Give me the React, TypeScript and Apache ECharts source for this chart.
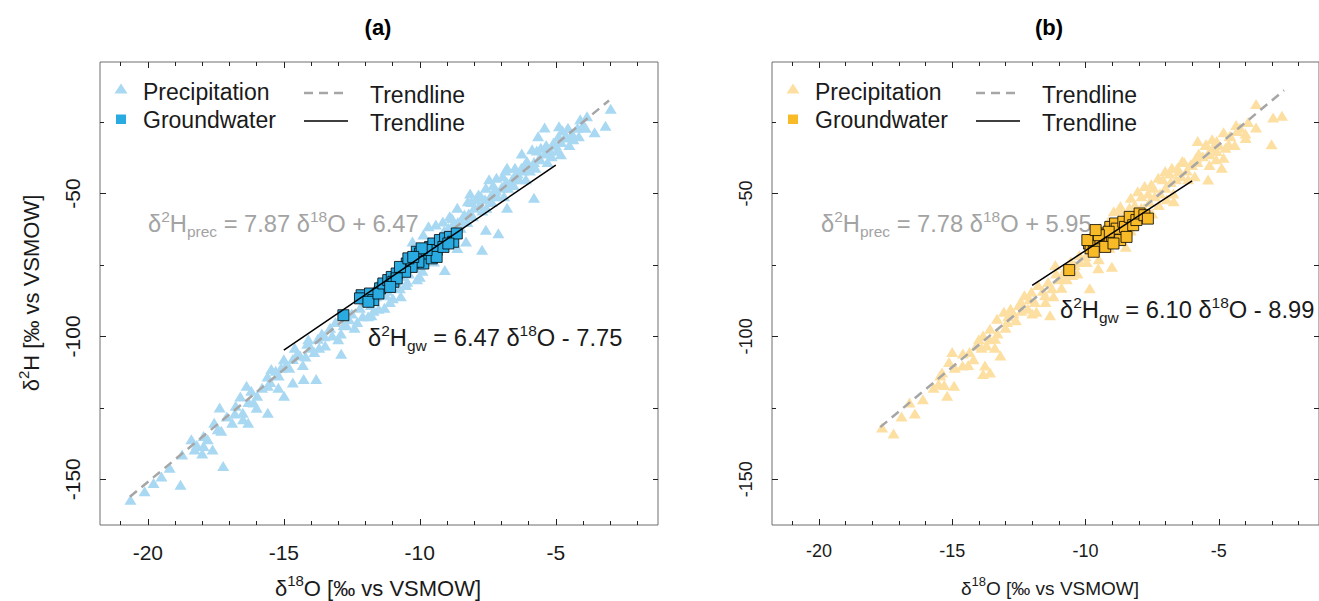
import React, { useEffect, useRef } from 'react';
import * as echarts from 'echarts';

const FONT = '"Liberation Sans", Arial, Helvetica, sans-serif';

// axis extents (per mil, vs VSMOW)
const X_MIN = -21.76;
const X_MAX = -1.24;
const Y_MIN = -166;
const Y_MAX = -4;
const xMajorTicks = [-20, -15, -10, -5];
const xMinorTicks = [-21, -20, -19, -18, -17, -16, -15, -14, -13, -12, -11, -10, -9, -8, -7, -6, -5, -4, -3, -2];
const yMajorTicks = [-150, -100, -50];
const yMinorTicks = [-150, -125, -100, -75, -50, -25];

// Panel (a) precipitation: [d18O, d2H]
const precipA: [number, number][] = [
  [-2.98, -20.4], [-3.17, -26.3], [-3.57, -28.6], [-5.41, -26.9], [-4.88, -26.5], [-4.42, -29.8], [-4.68, -30.4],
  [-5.08, -32.2], [-4.81, -36.3], [-5.87, -34.5], [-5.34, -35.1], [-5.6, -37.5], [-6.06, -38.6], [-6.26, -41.0],
  [-5.8, -51.5], [-6.79, -41.0], [-6.52, -43.9], [-7.18, -44.5], [-6.92, -47.4], [-7.57, -48.0], [-7.84, -50.4],
  [-7.31, -49.8], [-6.79, -55.0], [-7.57, -62.7], [-7.11, -63.9], [-7.71, -69.7], [-8.23, -52.7], [-8.62, -55.0],
  [-8.36, -57.4], [-8.82, -58.6], [-9.15, -59.8], [-9.41, -60.9], [-9.68, -61.5], [-9.08, -76.8], [-9.48, -73.8],
  [-10.0, -79.1], [-9.87, -64.4], [-10.27, -66.8], [-8.3, -66.8], [-8.62, -69.1], [-10.46, -80.9], [-10.73, -83.2],
  [-10.99, -86.7], [-11.51, -90.3], [-11.25, -85.6], [-11.78, -92.6], [-12.3, -95.0], [-12.7, -96.1], [-12.89, -106.1],
  [-13.22, -99.7], [-13.48, -103.2], [-13.75, -100.8], [-13.88, -105.5], [-14.14, -102.6], [-14.4, -106.7],
  [-14.67, -107.9], [-14.93, -110.2], [-15.19, -113.7], [-15.46, -111.4], [-14.67, -116.1], [-14.27, -114.9],
  [-13.81, -114.9], [-14.99, -120.8], [-15.59, -117.3], [-15.98, -120.8], [-16.37, -117.3], [-16.11, -123.1],
  [-16.77, -124.3], [-16.51, -126.7], [-15.59, -126.7], [-16.31, -130.2], [-16.9, -130.2], [-17.36, -124.9],
  [-17.56, -130.2], [-17.43, -132.5], [-17.95, -134.9], [-17.62, -139.6], [-17.95, -138.4], [-18.28, -139.6],
  [-18.74, -141.3], [-18.8, -151.9], [-17.23, -145.4], [-19.79, -151.3], [-20.12, -154.2], [-20.64, -157.2],
  [-9.0, -64], [-8.8, -61], [-8.6, -60], [-8.4, -58], [-8.2, -57], [-8.0, -55], [-7.8, -54], [-7.6, -52],
  [-7.4, -51], [-7.2, -49], [-7.0, -48], [-6.8, -46], [-6.6, -45], [-6.4, -43], [-6.2, -42], [-6.0, -40],
  [-5.8, -39], [-5.6, -38], [-5.4, -36], [-5.2, -35], [-5.0, -33], [-4.8, -32], [-4.6, -30], [-4.4, -29],
  [-4.2, -27], [-4.0, -26], [-8.9, -58], [-8.5, -62], [-8.1, -53], [-7.7, -56], [-7.3, -47], [-6.9, -51],
  [-6.5, -41], [-6.1, -45], [-5.7, -35], [-5.3, -39], [-4.9, -30], [-4.5, -33], [-4.1, -24], [-3.9, -27],
  [-12.5, -92], [-12.2, -90], [-12.0, -88], [-11.8, -89], [-11.6, -86], [-11.4, -85], [-11.2, -84], [-11.0, -83],
  [-10.8, -80], [-10.6, -79], [-10.4, -78], [-10.2, -76], [-10.0, -75], [-9.8, -72], [-9.6, -71], [-9.4, -70],
  [-9.2, -68], [-11.5, -81], [-10.9, -77], [-10.3, -73], [-9.7, -68], [-12.8, -96], [-12.4, -97], [-11.9, -93],
  [-11.3, -90], [-10.7, -86], [-13.3, -97], [-13.0, -101], [-12.6, -94],
  [-15.8, -118], [-15.3, -112], [-15.0, -108], [-14.8, -111], [-14.5, -106], [-14.2, -107], [-14.0, -104],
  [-13.7, -104], [-13.5, -100], [-14.3, -110], [-15.6, -114], [-16.3, -123], [-16.6, -121], [-16.0, -125],
  [-17.1, -128], [-17.8, -136], [-18.4, -136], [-18.0, -141], [-19.2, -146], [-19.5, -149],
  [-9.3, -66], [-9.1, -63], [-8.95, -62], [-8.7, -63], [-8.45, -60], [-8.25, -60], [-8.05, -58], [-7.95, -52],
  [-7.75, -51], [-7.55, -55], [-7.35, -53], [-7.15, -51], [-6.95, -44], [-6.75, -48], [-6.55, -47], [-6.35, -45],
  [-6.15, -40], [-5.95, -42], [-5.75, -41], [-5.55, -34], [-5.35, -33], [-5.15, -37], [-4.95, -35], [-4.75, -28],
  [-4.55, -27], [-4.35, -31], [-4.15, -30], [-3.85, -23], [-5.65, -30], [-6.25, -36], [-6.85, -42], [-7.45, -45],
  [-8.15, -50], [-12.1, -93], [-11.7, -91], [-11.1, -88], [-10.5, -82], [-10.1, -80], [-9.9, -77], [-12.9, -99],
  [-13.1, -95], [-13.6, -99], [-14.1, -101], [-14.6, -104], [-15.1, -111], [-15.5, -116], [-16.2, -119],
  [-16.8, -127], [-17.3, -133], [-18.2, -138], [-16.5, -129], [-15.2, -118],
];

// Panel (a) groundwater
const groundA: [number, number][] = [
  [-12.81, -92.6], [-12.14, -85.6], [-12.2, -86.7], [-11.83, -85.0], [-11.71, -87.3], [-11.89, -87.9],
  [-11.46, -83.2], [-11.52, -85.0], [-11.34, -81.5], [-11.16, -80.3], [-11.03, -79.2], [-10.97, -80.9],
  [-10.85, -78.0], [-10.66, -76.8], [-10.48, -74.5], [-10.3, -73.3], [-10.11, -70.4], [-9.99, -71.0],
  [-9.87, -74.5], [-9.69, -71.0], [-9.62, -68.7], [-9.5, -67.5], [-9.38, -69.8], [-9.26, -66.3], [-9.07, -65.7],
  [-8.89, -65.2], [-8.77, -66.9], [-8.64, -64.0], [-10.05, -73.9], [-10.3, -75.7], [-10.54, -77.4],
  [-10.85, -79.7], [-10.73, -75.7], [-10.42, -72.7], [-9.56, -72.7], [-9.38, -72.2], [-9.75, -69.8],
  [-9.93, -69.2], [-9.13, -68.7], [-11.09, -82.7], [-10.24, -72.2], [-8.95, -67.5],
];

// Panel (b) precipitation
const precipB: [number, number][] = [
  [-3.6, -18.7], [-2.96, -23.4], [-2.63, -22.8], [-3.6, -26.9], [-3.99, -30.6], [-3.02, -32.8], [-4.31, -28.1],
  [-4.57, -29.8], [-4.82, -28.6], [-5.08, -31.6], [-4.63, -32.8], [-5.79, -31.6], [-5.47, -32.8], [-5.34, -36.3],
  [-5.08, -35.1], [-4.82, -37.5], [-4.89, -41.0], [-5.4, -45.1], [-5.85, -37.5], [-6.05, -39.8], [-6.37, -38.6],
  [-6.5, -42.1], [-6.76, -41.0], [-7.01, -42.1], [-6.69, -52.7], [-7.27, -44.5], [-7.53, -46.8], [-7.78, -47.4],
  [-8.04, -49.2], [-8.3, -51.5], [-7.91, -55.0], [-8.69, -54.5], [-8.94, -56.2], [-9.14, -59.8], [-9.46, -62.1],
  [-9.72, -63.3], [-9.65, -67.4], [-9.01, -75.6], [-9.52, -76.2], [-8.49, -68.6], [-10.23, -71.5], [-10.55, -73.8],
  [-10.75, -76.2], [-9.84, -83.2], [-10.49, -78.5], [-10.94, -79.7], [-11.26, -83.2], [-11.13, -75.0],
  [-11.52, -85.6], [-11.78, -82.0], [-12.03, -84.4], [-12.29, -85.6], [-12.42, -87.9], [-12.16, -90.3],
  [-11.84, -91.4], [-11.33, -92.6], [-12.81, -90.3], [-13.06, -91.4], [-12.61, -94.4], [-12.94, -95.0],
  [-13.32, -93.8], [-13.58, -97.3], [-13.84, -99.7], [-13.39, -100.8], [-13.19, -106.7], [-13.71, -103.2],
  [-14.09, -103.2], [-14.35, -105.5], [-13.77, -110.2], [-13.58, -112.6], [-13.84, -113.2], [-15.0, -105.5],
  [-15.12, -109.0], [-14.61, -110.2], [-15.38, -112.6], [-15.45, -113.7], [-14.93, -117.3], [-15.51, -116.7],
  [-15.19, -120.8], [-16.6, -123.1], [-17.63, -131.9],
  [-10.0, -72], [-9.8, -70], [-9.6, -69], [-9.4, -67], [-9.2, -66], [-9.0, -64], [-8.8, -62], [-8.6, -61],
  [-8.4, -59], [-8.2, -58], [-8.0, -56], [-7.8, -55], [-7.6, -53], [-7.4, -51], [-7.2, -50], [-7.0, -48],
  [-6.8, -46], [-6.6, -45], [-6.4, -44], [-6.2, -42], [-6.0, -40], [-5.8, -39], [-5.6, -37], [-5.4, -36],
  [-5.2, -34], [-5.0, -33], [-4.6, -30], [-4.2, -27], [-3.9, -25], [-9.9, -66], [-9.5, -73], [-9.1, -69],
  [-8.7, -56], [-8.3, -63], [-7.9, -51], [-7.5, -57], [-7.1, -45], [-6.7, -50], [-6.3, -39], [-5.9, -44],
  [-5.5, -33], [-5.1, -38], [-4.4, -33], [-4.0, -29],
  [-11.0, -80], [-10.8, -78], [-10.6, -77], [-10.4, -75], [-10.2, -74], [-11.2, -86], [-11.4, -81], [-11.6, -84],
  [-11.9, -88], [-12.1, -87], [-12.4, -91], [-12.7, -92], [-13.0, -97], [-13.3, -99], [-13.6, -101], [-13.9, -104],
  [-14.2, -108], [-14.6, -106], [-14.9, -111], [-15.3, -117], [-15.7, -118], [-16.1, -122], [-16.4, -127],
  [-16.9, -128], [-17.2, -134],
  [-9.95, -74], [-9.75, -65], [-9.35, -64], [-9.15, -61], [-8.85, -65], [-8.55, -58], [-8.35, -55], [-8.15, -54],
  [-7.95, -59], [-7.65, -50], [-7.45, -48], [-7.25, -54], [-6.95, -52], [-6.85, -43], [-6.55, -41], [-6.15, -45],
  [-5.75, -36], [-5.35, -40], [-5.25, -31], [-4.75, -34], [-4.35, -26], [-10.9, -83], [-11.1, -78], [-11.5, -88],
  [-12.0, -92], [-12.5, -89], [-12.9, -93], [-13.4, -104], [-14.0, -101], [-14.4, -110], [-10.3, -78], [-10.7, -80],
];

// Panel (b) groundwater
const groundB: [number, number][] = [
  [-10.61, -76.8], [-9.87, -67.5], [-9.75, -66.3], [-9.81, -69.2], [-9.56, -68.1], [-9.69, -70.4], [-9.44, -65.7],
  [-9.32, -64.0], [-9.2, -66.9], [-9.07, -61.7], [-9.01, -65.2], [-8.89, -60.5], [-8.83, -62.3], [-8.7, -66.3],
  [-8.58, -59.9], [-8.52, -61.7], [-8.34, -58.2], [-8.21, -61.1], [-8.09, -59.3], [-7.97, -57.0], [-7.79, -57.6],
  [-7.66, -58.8], [-9.13, -63.4], [-9.5, -64.6], [-9.26, -68.7], [-8.95, -67.5], [-8.46, -65.2], [-9.93, -66.3],
  [-9.62, -62.8],
];

// Trendlines: [slope, intercept, from d18O, to d18O]
const trendPrecA = [7.87, 6.47, -20.66, -3.04];
const trendGwA = [6.47, -7.75, -15, -5];
const trendPrecB = [7.78, 5.95, -17.7, -2.55];
const trendGwB = [6.1, -8.99, -12, -6];

const BLUE_LIGHT = '#a9d8f2';
const BLUE = '#29abe2';
const ORANGE_LIGHT = '#fddfa2';
const ORANGE = '#f9ba27';
const GREY_LINE = '#a6a6a6';
const GREY_TEXT = '#a3a3a3';
const INK = '#1a1a1a';

const GRID_A = { left: 100, top: 62, width: 558, height: 463 };
const GRID_B = { left: 772, top: 62, width: 558, height: 463 };

function lineData(t: number[]) {
  const [m, b, x0, x1] = t;
  return [[x0, m * x0 + b], [x1, m * x1 + b]];
}

function makeAxes(gMain: number, gMinor: number, fontSize: number) {
  const tickStyle = { color: '#222', width: 1 };
  const x = (gridIndex: number, position: string, ticks: number[], len: number, labels: boolean) => ({
    type: 'value', gridIndex, position, min: X_MIN, max: X_MAX,
    axisLine: { show: false }, splitLine: { show: false },
    axisTick: { show: true, inside: true, length: len, customValues: ticks, lineStyle: tickStyle },
    axisLabel: labels
      ? { show: true, customValues: xMajorTicks, fontSize, fontFamily: FONT, color: INK, margin: 17 }
      : { show: false },
  });
  const y = (gridIndex: number, position: string, ticks: number[], len: number, labels: boolean) => ({
    type: 'value', gridIndex, position, min: Y_MIN, max: Y_MAX,
    axisLine: { show: false }, splitLine: { show: false },
    axisTick: { show: true, inside: true, length: len, customValues: ticks, lineStyle: tickStyle },
    axisLabel: labels
      ? { show: true, customValues: yMajorTicks, rotate: 90, fontSize, fontFamily: FONT, color: INK, margin: 17 }
      : { show: false },
  });
  return {
    xAxis: [
      x(gMain, 'bottom', xMajorTicks, 6, true),
      x(gMain, 'top', xMajorTicks, 6, false),
      x(gMinor, 'bottom', xMinorTicks, 4, false),
      x(gMinor, 'top', xMinorTicks, 4, false),
    ],
    yAxis: [
      y(gMain, 'left', yMajorTicks, 6, true),
      y(gMain, 'right', yMajorTicks, 5, false),
      y(gMinor, 'left', yMinorTicks, 4, false),
      y(gMinor, 'right', yMinorTicks, 5, false),
    ],
  };
}

function rich(size: number, small: number, color: string) {
  return {
    n: { fontSize: size, fontFamily: FONT, fill: color, lineHeight: size + 8, verticalAlign: 'middle' },
    sup: { fontSize: small, fontFamily: FONT, fill: color, lineHeight: small + 1, verticalAlign: 'top' },
    sub: { fontSize: small, fontFamily: FONT, fill: color, lineHeight: small + 3, verticalAlign: 'bottom' },
  };
}

function richText(x: number, y: number, text: string, size: number, small: number, color: string, align = 'left', rotation = 0) {
  return {
    type: 'text', x, y, rotation, silent: true,
    style: { text, align, verticalAlign: 'middle', rich: rich(size, small, color), fontFamily: FONT, fontSize: size, fill: color },
  };
}

function plainText(x: number, y: number, text: string, size: number, color: string, weight = 'normal', align = 'left') {
  return {
    type: 'text', x, y, silent: true,
    style: { text, align, verticalAlign: 'middle', fontFamily: FONT, fontSize: size, fontWeight: weight, fill: color },
  };
}

function legend(ox: number, lightColor: string, solidColor: string) {
  // ox = x of marker centre
  return [
    { type: 'polygon', silent: true, shape: { points: [[ox, 83.5], [ox + 6.5, 93.5], [ox - 6.5, 93.5]] }, style: { fill: lightColor } },
    { type: 'rect', silent: true, shape: { x: ox - 5, y: 114.5, width: 10, height: 9.5 }, style: { fill: solidColor } },
    plainText(ox + 22, 92, 'Precipitation', 23, INK),
    plainText(ox + 22, 120, 'Groundwater', 23, INK),
    { type: 'line', silent: true, shape: { x1: ox + 183, y1: 93, x2: ox + 226, y2: 93 }, style: { stroke: GREY_LINE, lineWidth: 2.5, lineDash: [9, 6] } },
    { type: 'line', silent: true, shape: { x1: ox + 183, y1: 121, x2: ox + 227, y2: 121 }, style: { stroke: '#000', lineWidth: 1.5 } },
    plainText(ox + 249, 95, 'Trendline', 23, INK),
    plainText(ox + 249, 123, 'Trendline', 23, INK),
  ];
}

export default function App() {
  const ref = useRef<HTMLDivElement>(null);
  useEffect(() => {
    if (!ref.current) return;
    const chart = echarts.init(ref.current, undefined, { renderer: 'svg' });
    const a = makeAxes(0, 1, 21);
    const b = makeAxes(2, 3, 18);
    const xAxis = [...a.xAxis, ...b.xAxis];
    const yAxis = [...a.yAxis, ...b.yAxis];

    const tri = (name: string, data: [number, number][], color: string, xi: number, yi: number) => ({
      name, type: 'scatter', xAxisIndex: xi, yAxisIndex: yi, data, symbol: 'triangle', symbolSize: [12, 10],
      itemStyle: { color, opacity: 1 }, silent: true, z: 2,
    });
    const sq = (name: string, data: [number, number][], color: string, xi: number, yi: number) => ({
      name, type: 'scatter', xAxisIndex: xi, yAxisIndex: yi, data, symbol: 'rect', symbolSize: 11,
      itemStyle: { color, borderColor: '#000', borderWidth: 0.8, opacity: 1 }, silent: true, z: 4,
    });
    const ln = (name: string, t: number[], dashed: boolean, xi: number, yi: number) => ({
      name, type: 'line', xAxisIndex: xi, yAxisIndex: yi, data: lineData(t), symbol: 'none', silent: true,
      lineStyle: dashed ? { color: GREY_LINE, width: 2.5, type: [9, 6] } : { color: '#000', width: 1.5 },
      z: dashed ? 3 : 5,
    });

    chart.setOption({
      animation: false,
      backgroundColor: '#ffffff',
      grid: [
        { ...GRID_A, show: true, borderColor: '#6e6e6e', borderWidth: 1, backgroundColor: 'transparent' },
        { ...GRID_A, show: false },
        { ...GRID_B, show: true, borderColor: '#6e6e6e', borderWidth: 1, backgroundColor: 'transparent' },
        { ...GRID_B, show: false },
      ],
      xAxis,
      yAxis,
      series: [
        tri('Precipitation (a)', precipA, BLUE_LIGHT, 0, 0),
        ln('Trendline precipitation (a)', trendPrecA, true, 0, 0),
        sq('Groundwater (a)', groundA, BLUE, 0, 0),
        ln('Trendline groundwater (a)', trendGwA, false, 0, 0),
        tri('Precipitation (b)', precipB, ORANGE_LIGHT, 4, 4),
        ln('Trendline precipitation (b)', trendPrecB, true, 4, 4),
        sq('Groundwater (b)', groundB, ORANGE, 4, 4),
        ln('Trendline groundwater (b)', trendGwB, false, 4, 4),
      ],
      graphic: [
        plainText(378, 27, '(a)', 22, '#000', 'bold', 'center'),
        plainText(1049, 27, '(b)', 22, '#000', 'bold', 'center'),
        richText(378, 588, '{n|δ}{sup|18}{n|O [‰ vs VSMOW]}', 22, 15, INK, 'center'),
        richText(1050, 588, '{n|δ}{sup|18}{n|O [‰ vs VSMOW]}', 19, 13, INK, 'center'),
        richText(31, 293, '{n|δ}{sup|2}{n|H [‰ vs VSMOW]}', 22, 15, INK, 'center', Math.PI / 2),
        ...legend(121, BLUE_LIGHT, BLUE),
        ...legend(793, ORANGE_LIGHT, ORANGE),
        richText(148, 224, '{n|δ}{sup|2}{n|H}{sub|prec}{n| = 7.87 δ}{sup|18}{n|O + 6.47}', 23.7, 15.5, GREY_TEXT),
        richText(368, 338, '{n|δ}{sup|2}{n|H}{sub|gw}{n| = 6.47 δ}{sup|18}{n|O - 7.75}', 23.7, 15.5, INK),
        richText(821, 224, '{n|δ}{sup|2}{n|H}{sub|prec}{n| = 7.78 δ}{sup|18}{n|O + 5.95}', 23.7, 15.5, GREY_TEXT),
        richText(1060, 310, '{n|δ}{sup|2}{n|H}{sub|gw}{n| = 6.10 δ}{sup|18}{n|O - 8.99}', 23.7, 15.5, INK),
      ],
    });
    return () => chart.dispose();
  }, []);
  return <div ref={ref} style={{ position: 'fixed', left: 0, top: 0, width: 1319, height: 601, background: '#fff' }} />;
}
